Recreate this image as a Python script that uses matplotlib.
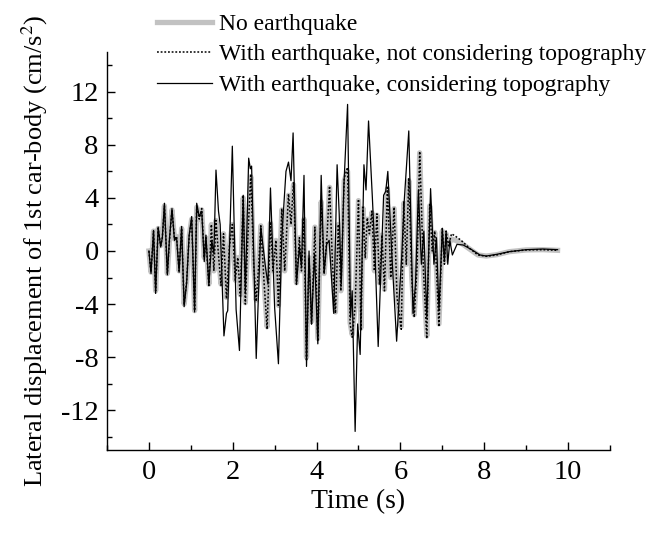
import matplotlib
matplotlib.use("Agg")
import matplotlib.pyplot as plt
from matplotlib.ticker import MultipleLocator

plt.rcParams['font.family'] = ['Liberation Serif', 'DejaVu Serif']
plt.rcParams['mathtext.fontset'] = 'stix'
plt.rcParams['axes.unicode_minus'] = False

# --- data (time in s, response in cm/s^2) ---
t_topo = [0.00, 0.05, 0.11, 0.16, 0.22, 0.28, 0.32, 0.37, 0.44, 0.49, 0.55, 0.61, 0.66, 0.72, 0.78,
          0.84, 0.90, 0.96, 1.02, 1.09, 1.14, 1.20, 1.26, 1.32, 1.36, 1.43, 1.50, 1.55, 1.60, 1.66,
          1.70, 1.79, 1.85, 1.88, 1.99, 2.08, 2.16, 2.25, 2.30, 2.38, 2.42, 2.45, 2.56, 2.67, 2.78,
          2.84, 2.90, 3.00, 3.09, 3.17, 3.27, 3.33, 3.39, 3.44, 3.52, 3.59, 3.64, 3.70, 3.76, 3.82,
          3.88, 3.95, 4.03, 4.11, 4.18, 4.24, 4.30, 4.41, 4.49, 4.54, 4.59, 4.65, 4.74, 4.81, 4.85,
          4.92, 4.98, 5.04, 5.13, 5.18, 5.24, 5.33, 5.40, 5.47, 5.54, 5.60, 5.65, 5.70, 5.80, 5.91,
          6.03, 6.09, 6.20, 6.30, 6.36, 6.43, 6.50, 6.56, 6.63, 6.72, 6.80, 6.86, 6.92, 7.00, 7.05,
          7.09, 7.13, 7.18, 7.24, 7.35, 7.50, 7.70, 7.90, 8.05, 8.30, 8.60, 9.00, 9.40, 9.75]
a_topo = [0.0, -1.7, 1.55, -3.2, 1.8, 0.3, 1.0, 3.6, -1.8, 0.9, 3.2, 0.8, 1.0, -1.6, 1.85,
          -4.2, -2.4, 1.2, 2.6, -4.6, 3.6, 2.6, 3.0, -0.8, 1.2, -2.6, 0.8, -0.2, 6.1, 3.0,
          2.0, -6.4, -4.7, -4.5, 7.9, -4.4, -7.5, 4.2, -3.2, 7.0, 6.2, 6.4, -8.1, 1.8, -1.2,
          -2.5, 4.75, -4.3, -8.5, 1.0, 6.0, 6.7, 5.3, 8.9, -2.5, 0.3, -1.2, 5.7, -8.7, 0.0,
          -5.5, -0.2, -7.0, 5.7, -1.7, 0.5, 0.8, -4.7, 6.5, 2.8, -2.5, 4.8, 11.05, -5.0, -3.0,
          -13.6, -5.5, -7.8, 6.5, 4.6, 9.8, 4.1, -0.7, -7.2, -1.0, 4.2, 4.5, 6.0, -0.5, -6.8,
          -0.5, 3.7, 9.05, -4.7, -2.5, 4.6, -1.0, 1.5, -5.0, 4.7, -1.0, 1.0, -4.5, 1.7, -0.8,
          1.5, -1.0, 0.8, -0.3, 0.5, 0.45, 0.1, -0.3, -0.38, -0.25, -0.05, 0.1, 0.15, 0.1]

t_eq = [0.00, 0.05, 0.11, 0.16, 0.22, 0.28, 0.32, 0.37, 0.44, 0.49, 0.55, 0.61, 0.66, 0.72, 0.78,
        0.84, 0.90, 0.96, 1.02, 1.09, 1.14, 1.20, 1.26, 1.32, 1.36, 1.43, 1.49, 1.55, 1.60, 1.66,
        1.72, 1.78, 1.85, 1.92, 1.99, 2.06, 2.12, 2.18, 2.25, 2.30, 2.36, 2.43, 2.50, 2.56, 2.62,
        2.67, 2.75, 2.82, 2.90, 2.96, 3.03, 3.09, 3.17, 3.24, 3.33, 3.39, 3.45, 3.52, 3.59, 3.64,
        3.70, 3.76, 3.82, 3.88, 3.96, 4.03, 4.11, 4.18, 4.25, 4.31, 4.38, 4.45, 4.52, 4.58, 4.66,
        4.74, 4.80, 4.85, 4.92, 5.00, 5.06, 5.11, 5.16, 5.21, 5.26, 5.32, 5.38, 5.44, 5.50, 5.56,
        5.62, 5.69, 5.77, 5.85, 5.92, 6.02, 6.08, 6.14, 6.20, 6.27, 6.33, 6.40, 6.46, 6.55, 6.63,
        6.70, 6.76, 6.82, 6.92, 7.00, 7.05, 7.09, 7.15, 7.22, 7.32, 7.45, 7.65, 7.85, 8.05, 8.30,
        8.60, 9.00, 9.40, 9.75]
a_eq = [0.0, -1.6, 1.5, -3.0, 1.7, 0.4, 1.0, 3.4, -1.7, 0.8, 3.1, 0.9, 1.1, -1.5, 1.7,
        -4.0, -2.3, 1.1, 2.4, -4.5, 3.3, 2.4, 3.2, -0.5, 1.0, -2.6, 2.0, -1.5, 2.3, -0.3,
        -2.6, 1.3, -3.6, 0.3, 2.0, -2.2, -0.5, -3.4, 4.2, -4.0, 1.0, 5.8, -1.0, -3.8, -1.0,
        1.9, -2.5, -5.9, 2.2, -1.5, 0.8, -4.2, 3.2, -1.5, 4.3, 2.0, 5.2, -2.5, 1.0, -1.5,
        2.5, -8.3, -0.5, -5.5, 1.8, -6.8, 3.8, -1.7, 1.2, 4.9, -1.0, -4.7, 2.0, -3.0, 5.5,
        6.3, -5.5, -6.5, -4.2, 3.9, -6.0, 3.3, -0.5, 2.5, 1.3, 3.0, -1.5, 2.8, -2.5, 1.2,
        -3.0, 4.9, -2.0, 3.3, -3.5, -5.9, 3.7, -1.0, 5.5, -2.0, -5.0, -1.0, 7.5, -1.5, -6.6,
        3.5, 0.0, 1.5, -5.7, 1.7, -1.0, 1.5, 0.4, 1.3, 1.1, 0.8, 0.2, -0.3, -0.4, -0.3,
        -0.05, 0.08, 0.1, 0.05]

t_none = t_eq
a_none = [0.0, -1.6, 1.5, -3.0, 1.7, 0.4, 1.0, 3.4, -1.7, 0.8, 3.1, 0.9, 1.1, -1.5, 1.7,
          -4.0, -2.3, 1.1, 2.4, -4.5, 3.3, 2.4, 3.1, -0.5, 1.0, -2.5, 2.0, -1.5, 2.3, -0.3,
          -2.5, 1.3, -3.5, 0.3, 2.0, -2.2, -0.5, -3.3, 4.0, -3.9, 1.0, 5.6, -1.0, -3.7, -1.0,
          1.9, -2.5, -5.7, 2.1, -1.5, 0.8, -4.1, 3.1, -1.5, 4.2, 2.0, 5.0, -2.4, 1.0, -1.5,
          2.4, -8.0, -0.5, -5.3, 1.8, -6.6, 3.7, -1.7, 1.2, 4.8, -1.0, -4.6, 2.0, -3.0, 5.3,
          6.0, -5.4, -6.3, -4.1, 3.8, -5.8, 3.2, -0.5, 2.4, 1.3, 2.9, -1.5, 2.7, -2.4, 1.2,
          -2.9, 4.7, -2.0, 3.2, -3.4, -5.7, 3.6, -1.0, 5.3, -2.0, -4.8, -1.0, 7.4, -1.5, -6.4,
          3.4, 0.0, 1.4, -5.5, 1.5, -0.8, 1.3, 0.5, 0.9, 0.8, 0.6, 0.15, -0.3, -0.38, -0.28,
          -0.05, 0.08, 0.1, 0.05]

labels = ['No earthquake',
          'With earthquake, not considering topography',
          'With earthquake, considering topography']

fig = plt.figure(figsize=(6.63, 5.35), dpi=100)
ax = fig.add_axes([0.1614, 0.1589, 0.7586, 0.7439])

ax.plot(t_none, a_none, color='#c2c2c2', lw=3.8, solid_joinstyle='round', label=labels[0])
ax.plot(t_eq, a_eq, color='black', lw=1.1, ls=(0, (1.2, 1.2)), label=labels[1])
ax.plot(t_topo, a_topo, color='black', lw=0.9, label=labels[2])

ax.set_xlim(-1, 11)
ax.set_ylim(-15, 15)
ax.xaxis.set_major_locator(MultipleLocator(2))
ax.xaxis.set_minor_locator(MultipleLocator(1))
ax.yaxis.set_minor_locator(MultipleLocator(2))
ax.set_yticks([-12, -8, -4, 0, 4, 8, 12])
ax.tick_params(which='both', direction='in', width=1.0, labelsize=20.5, top=False, right=False)
ax.tick_params(which='major', length=6)
ax.tick_params(which='minor', length=3.5)
ax.tick_params(axis='x', which='major', pad=7)
ax.tick_params(axis='y', which='major', pad=6)
for s in ['top', 'right']:
    ax.spines[s].set_visible(False)
for s in ['left', 'bottom']:
    ax.spines[s].set_linewidth(1.0)

ax.set_xlabel('Time (s)', fontsize=20, labelpad=3)
ax.set_ylabel('Lateral displacement of 1st car-body (cm/s$^2$)', fontsize=19, labelpad=8)

fig.legend(loc='upper left', bbox_to_anchor=(148 / 663, 1 - 4 / 535), frameon=False,
           fontsize=17, handlelength=2.3, handletextpad=0.3, labelspacing=0.38,
           borderaxespad=0)

fig.savefig('out.png', dpi=100)
